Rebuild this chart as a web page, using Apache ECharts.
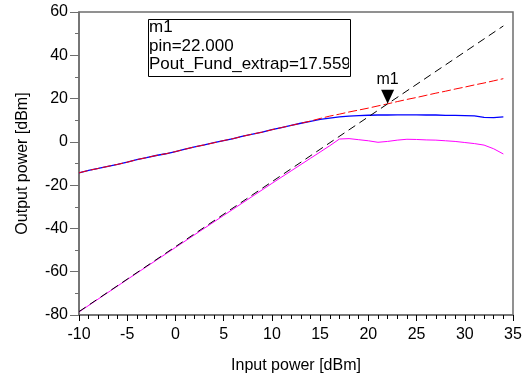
<!DOCTYPE html>
<html><head><meta charset="utf-8">
<script src="https://cdn.jsdelivr.net/npm/echarts@6/dist/echarts.min.js"></script>
<style>html,body{margin:0;padding:0;background:#fff}#c{width:531px;height:382px}</style>
</head><body><div id="c"></div>
<script>
const pinX = [-10,-9,-8,-7,-6,-5,-4,-3,-2,-1,0,1,2,3,4,5,6,7,8,9,10,11,12,13,14,15,16,17,18,19,20,21,22,23,24,25,26,27,28,29,30,31,32,33,34];
const blueVals = [-14.3,-13.2,-12.3,-11.3,-10.4,-9.4,-8.2,-7.3,-6.3,-5.5,-4.5,-3.4,-2.3,-1.4,-0.4,0.6,1.5,2.6,3.6,4.5,5.6,6.6,7.6,8.6,9.5,10.4,11.0,11.5,11.9,12.1,12.3,12.4,12.4,12.5,12.5,12.5,12.4,12.4,12.2,12.2,12.1,12.0,11.3,11.2,11.5];
const redVals = [-14.3,-13.2,-12.3,-11.3,-10.4,-9.4,-8.2,-7.3,-6.3,-5.5,-4.5,-3.4,-2.3,-1.4,-0.4,0.6,1.5,2.6,3.6,4.5,5.6,6.6,7.6,8.6,9.6,10.8,11.9,12.8,13.8,14.7,15.6,16.6,17.56,18.6,19.6,20.5,21.5,22.5,23.4,24.4,25.3,26.3,27.2,28.2,29.2];
const magX = [-10,-5,0,5,10,12,14,15,16,17,18,19,20,21,22,23,24,25,26,27,28,29,30,31,32,33,34];
const magVals = [-78.6,-63.6,-48.8,-34.0,-19.2,-13.4,-7.6,-4.7,-1.8,1.3,1.5,1.0,0.5,-0.2,0.2,0.8,1.2,1.1,0.9,0.8,0.5,0.2,-0.3,-0.8,-1.5,-3.2,-5.6];
const extX = [-10,0,10,20,22,30,34];
const extVals = [-78.44,-48.44,-18.44,11.56,17.56,41.56,53.56];
const xTicks = {min:-10,max:35,interval:5};
const yTicks = {min:-80,max:60,interval:20};
const marker = {name:'m1', pin:22.000, pout:17.559};

const pair = (xs, ys) => xs.map((x,i)=>[x, ys[i]]);
const FONT = 'Liberation Sans, Arial, sans-serif';
const axisCol = '#6e6e6e';

const chart = echarts.init(document.getElementById('c'), null, {renderer:'canvas'});
chart.setOption({
  animation:false,
  backgroundColor:'#fff',
  grid:{left:79,right:18,top:12,bottom:67,show:true,borderColor:axisCol,borderWidth:1.5,backgroundColor:'transparent'},
  xAxis:{type:'value',min:xTicks.min,max:xTicks.max,interval:xTicks.interval,
    name:'Input power [dBm]',nameLocation:'middle',nameGap:43,
    nameTextStyle:{fontFamily:FONT,fontSize:16,color:'#000'},
    axisLine:{show:true,onZero:false,lineStyle:{color:axisCol,width:1.5}},
    axisTick:{show:true,inside:false,length:6,lineStyle:{color:'#000'}},
    minorTick:{show:true,splitNumber:5,length:4,lineStyle:{color:'#000'}},
    splitLine:{show:false},
    axisLabel:{fontFamily:FONT,fontSize:16,color:'#000',margin:12}},
  yAxis:{type:'value',min:yTicks.min,max:yTicks.max,interval:yTicks.interval,
    name:'Output power [dBm]',nameLocation:'middle',nameGap:48,nameRotate:90,
    nameTextStyle:{fontFamily:FONT,fontSize:16,color:'#000'},
    axisLine:{show:true,onZero:false,lineStyle:{color:axisCol,width:1.5}},
    axisTick:{show:true,inside:false,length:9,lineStyle:{color:axisCol}},
    minorTick:{show:true,splitNumber:2,length:4,lineStyle:{color:axisCol}},
    splitLine:{show:false},
    axisLabel:{fontFamily:FONT,fontSize:16,color:'#000',margin:11}},
  series:[
    {type:'line',data:pair(magX,magVals),showSymbol:false,symbol:'none',lineStyle:{color:'#ff00ff',width:1},z:2},
    {type:'line',data:pair(pinX,blueVals),showSymbol:false,symbol:'none',lineStyle:{color:'#0000ff',width:1.3},z:3},
    {type:'line',data:pair(pinX,redVals),showSymbol:false,symbol:'none',lineStyle:{color:'#ff0000',width:1,type:[9,3]},z:4},
    {type:'line',data:pair(extX,extVals),showSymbol:false,symbol:'none',lineStyle:{color:'#000',width:1,type:[8,5]},z:5,
     markPoint:{symbol:'triangle',symbolSize:[13,14],symbolRotate:180,symbolOffset:[0,-7],
       itemStyle:{color:'#000'},
       label:{show:true,position:'top',distance:2,formatter:marker.name,fontFamily:FONT,fontSize:16,color:'#000'},
       data:[{coord:[marker.pin,marker.pout]}]}}
  ],
  graphic:[
    {type:'text',left:149,top:19,z:10,style:{text:marker.name,font:'17px '+FONT,fill:'#000'}},
    {type:'text',left:149,top:38,z:10,style:{text:'pin='+marker.pin.toFixed(3),font:'17px '+FONT,fill:'#000'}},
    {type:'text',left:149,top:56,z:10,style:{text:'Pout_Fund_extrap='+marker.pout.toFixed(3),font:'17px '+FONT,fill:'#000'}},
    {type:'rect',left:349,top:16,z:11,shape:{width:20,height:60},style:{fill:'#fff'}},
    {type:'rect',left:146,top:17,z:12,shape:{width:202,height:57},style:{fill:'none',stroke:'#000',lineWidth:1}}
  ]
});
</script></body></html>
